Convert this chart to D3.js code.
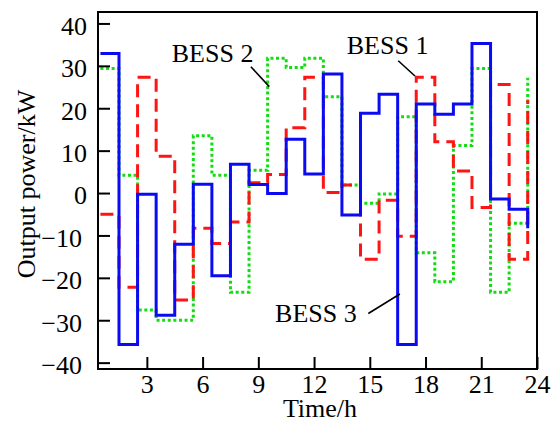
<!DOCTYPE html>
<html>
<head>
<meta charset="utf-8">
<script src="https://cdn.jsdelivr.net/npm/d3@7"></script>
<style>
  body { margin: 0; background: #fff; }
  text { font-family: 'Liberation Serif', 'Times New Roman', serif; }
</style>
</head>
<body>
<div id="chart"></div>
<script>
// hourly output of each storage unit, kW
const hours = d3.range(1, 25)
const bess1 = [-5.0, -22.2, 27.3, 8.7, -25.2, -8.3, -11.9, -6.8, 2.4, 4.4, 15.4, 27.3,
  0.1, 1.9, -15.6, -1.7, -10.2, 27.3, 12.1, 5.2, -3.4, 25.6, -15.6, 21.9]
const bess2 = [29.4, 4.2, -27.6, -30, -30, 13.5, 4.2, -23.4, 5.4, 31.8, 29.6, 31.8,
  22.7, 1.9, -2.4, -0.2, 18.0, -14.1, -20.9, 11.2, 29.4, -23.4, -7.1, 27.2]
const bess3 = [32.9, -35.7, -0.3, -28.8, -12.1, 2.1, -19.5, 6.8, 2.0, -0.1, 12.7, 4.5,
  28.1, -5.2, 18.8, 23.3, -35.7, 21.0, 18.6, 21.0, 35.3, -1.4, -3.8, -8.3]
const xTicks = [3, 6, 9, 12, 15, 18, 21, 24]
const yTicks = [-40, -30, -20, -10, 0, 10, 20, 30, 40]

const width = 551
const height = 423
const margin = { top: 12, right: 14, bottom: 54, left: 98 }

const x = d3.scaleLinear()
  .domain([0.37, 24])
  .range([margin.left, width - margin.right])

const y = d3.scaleLinear()
  .domain([-41.5, 42.7])
  .range([height - margin.bottom, margin.top])

const svg = d3.select('#chart').append('svg')
  .attr('width', width)
  .attr('height', height)

const series = [
  { name: 'BESS 2', values: bess2, color: '#12dd12', dash: '3,2.6', label: [4.34, 31.0], pointer: [[8.6, 29.8], [9.59, 25.1]] },
  { name: 'BESS 1', values: bess1, color: '#ff1414', dash: '13,7', label: [13.76, 32.9], pointer: [[16.53, 31.2], [17.43, 27.6]] },
  { name: 'BESS 3', values: bess3, color: '#0b0bf2', dash: null, label: [9.9, -30.4], pointer: [[14.92, -28.4], [16.62, -23.8]] }
]

// each value holds for one hour, centred on the hour
const line = d3.line()
  .x(d => x(d.h - 0.5))
  .y(d => y(d.v))
  .curve(d3.curveStepAfter)

svg.append('g')
  .selectAll('path')
  .data(series).enter()
  .append('path')
  .attr('fill', 'none')
  .attr('stroke', d => d.color)
  .attr('stroke-width', 3)
  .attr('stroke-dasharray', d => d.dash)
  .attr('d', d => line(hours.map((h, i) => ({ h, v: d.values[i] }))))

// axes, ticks pointing inward
const xAxis = svg.append('g')
  .attr('transform', `translate(0,${height - margin.bottom})`)
  .call(d3.axisBottom(x).tickValues(xTicks).tickSizeInner(-12).tickSizeOuter(0).tickPadding(10))

const yAxis = svg.append('g')
  .attr('transform', `translate(${margin.left},0)`)
  .call(d3.axisLeft(y).tickValues(yTicks).tickSizeInner(-12).tickSizeOuter(0).tickPadding(11))

for (const g of [xAxis, yAxis]) {
  g.select('.domain').remove()
  g.selectAll('.tick line').attr('stroke', '#000').attr('stroke-width', 2)
  g.selectAll('.tick text')
    .attr('fill', '#000')
    .style('font-size', '26px')
    .style('font-family', "'Liberation Serif', 'Times New Roman', serif")
}
yAxis.selectAll('.tick text')
  .attr('dy', '0.42em')
  .attr('x', d => d < 0 ? -16 : -11)
xAxis.selectAll('.tick text').attr('dy', '0.54em')

svg.append('rect')
  .attr('x', margin.left)
  .attr('y', margin.top)
  .attr('width', width - margin.left - margin.right)
  .attr('height', height - margin.top - margin.bottom)
  .attr('fill', 'none')
  .attr('stroke', '#000')
  .attr('stroke-width', 2)

// series labels with leader lines
svg.append('g')
  .selectAll('text')
  .data(series).enter()
  .append('text')
  .attr('x', d => x(d.label[0]))
  .attr('y', d => y(d.label[1]))
  .style('font-size', '26px')
  .text(d => d.name)

svg.append('g')
  .selectAll('line')
  .data(series).enter()
  .append('line')
  .attr('x1', d => x(d.pointer[0][0]))
  .attr('y1', d => y(d.pointer[0][1]))
  .attr('x2', d => x(d.pointer[1][0]))
  .attr('y2', d => y(d.pointer[1][1]))
  .attr('stroke', '#000')
  .attr('stroke-width', 1.6)

svg.append('text')
  .attr('x', 320)
  .attr('y', 417)
  .attr('text-anchor', 'middle')
  .style('font-size', '26px')
  .text('Time/h')

svg.append('text')
  .attr('transform', 'translate(35,184) rotate(-90)')
  .attr('text-anchor', 'middle')
  .style('font-size', '26px')
  .text('Output power/kW')
</script>
</body>
</html>
